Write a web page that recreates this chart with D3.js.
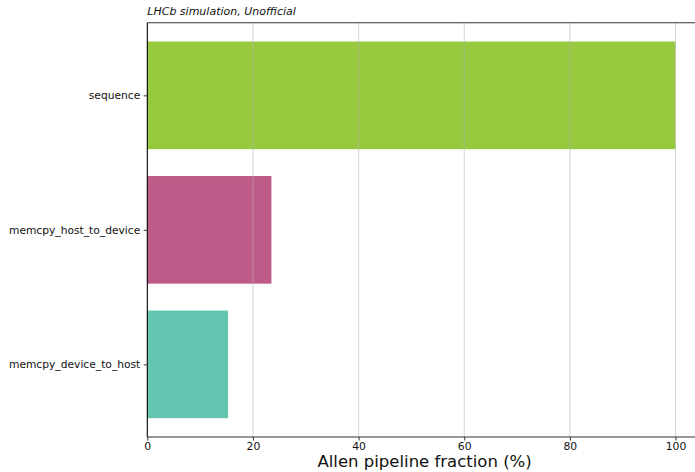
<!DOCTYPE html>
<html><head><meta charset="utf-8">
<script src="https://cdn.jsdelivr.net/npm/d3@7"></script>
<style>body{margin:0;background:#fff;}svg{display:block;font-family:"DejaVu Sans",sans-serif;}</style>
</head><body>
<script>
const categories = ["sequence", "memcpy_host_to_device", "memcpy_device_to_host"];
const values = [100, 23.5, 15.3];
const colors = ["#97c93e", "#bf5b88", "#63c6b1"];
const xTicks = [0, 20, 40, 60, 80, 100];
const title = "LHCb simulation, Unofficial";
const xLabel = "Allen pipeline fraction (%)";

const W = 695, H = 472;
const L = 147.3, T = 22.7, B = 437;
const x = d3.scaleLinear().domain([0, 105]).range([L, L + 105 * 5.282]);
const y = d3.scaleLinear().domain([-0.54, 2.54]).range([T, B]);
const barH = 0.8;

const svg = d3.select("body").append("svg").attr("width", W).attr("height", H);

svg.selectAll("rect.bar").data(values).enter().append("rect")
  .attr("class", "bar")
  .attr("x", x(0))
  .attr("y", (d, i) => y(i - barH / 2))
  .attr("width", d => x(d) - x(0))
  .attr("height", y(barH) - y(0))
  .attr("fill", (d, i) => colors[i]);

// grid (on top)
svg.selectAll("line.grid").data(xTicks.filter(t => t > 0)).enter().append("line")
  .attr("x1", d => x(d)).attr("x2", d => x(d))
  .attr("y1", T).attr("y2", B)
  .attr("stroke", "#b0b0b0").attr("stroke-opacity", 0.7).attr("stroke-width", 0.8);

// spines
svg.append("line").attr("x1", L).attr("x2", L).attr("y1", T).attr("y2", B).attr("stroke", "#000").attr("stroke-width", 1.1);
svg.append("line").attr("x1", L).attr("x2", x(105)).attr("y1", B).attr("y2", B).attr("stroke", "#333").attr("stroke-width", 1.1);
svg.append("line").attr("x1", L).attr("x2", x(105)).attr("y1", T).attr("y2", T).attr("stroke", "#333").attr("stroke-width", 1.1);
svg.append("line").attr("x1", x(105)).attr("x2", x(105)).attr("y1", T).attr("y2", B).attr("stroke", "#333").attr("stroke-width", 1.1);

// x axis
const xAxis = d3.axisBottom(x).tickValues(xTicks).tickSize(3.5).tickPadding(1.5).tickFormat(d3.format("d"));
const gx = svg.append("g").attr("transform", `translate(0,${B})`).call(xAxis);
gx.select(".domain").remove();
gx.selectAll("line").attr("stroke", "#333");
gx.selectAll("text").attr("font-size", 10.8).attr("fill", "#111").attr("font-family", "DejaVu Sans");

// y axis
const yAxis = d3.axisLeft(y).tickValues([0, 1, 2]).tickSize(3.5).tickPadding(3.5).tickFormat(i => categories[i]);
const gy = svg.append("g").attr("transform", `translate(${L},0)`).call(yAxis);
gy.select(".domain").remove();
gy.selectAll("line").attr("stroke", "#333");
gy.selectAll("text").attr("font-size", 10.7).attr("fill", "#111").attr("font-family", "DejaVu Sans");

svg.append("text").attr("x", L).attr("y", 15).attr("font-size", 11).attr("font-style", "italic").attr("fill", "#111").text(title);
svg.append("text").attr("x", (L + x(105)) / 2).attr("y", 467).attr("text-anchor", "middle").attr("font-size", 16.5).attr("fill", "#111").text(xLabel);
</script>
</body></html>
